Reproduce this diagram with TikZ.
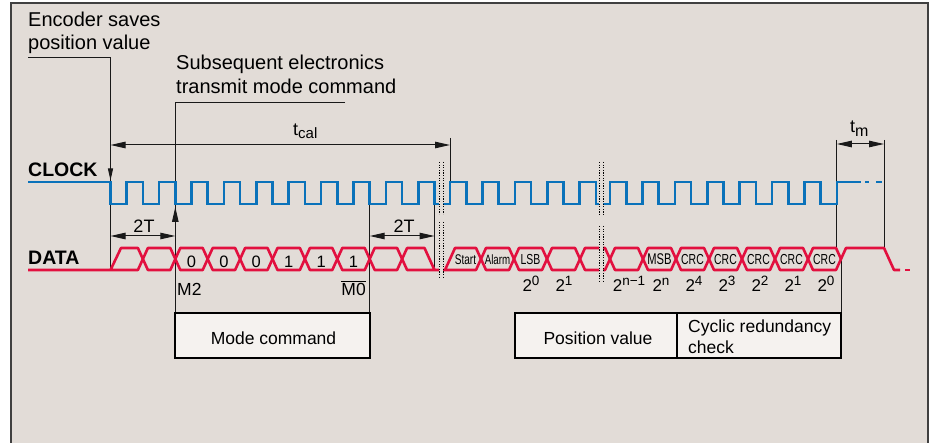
\documentclass[tikz,border=0pt]{standalone}
\usepackage{fontspec}
\setmainfont{Liberation Sans}
\newfontfamily\condfont[FakeStretch=0.72]{Liberation Sans}
\usetikzlibrary{arrows.meta}
\definecolor{bgc}{HTML}{E2DCD7}
\definecolor{boxc}{HTML}{F5F2EF}
\definecolor{clkc}{HTML}{0A72BA}
\definecolor{datc}{HTML}{E2103F}
\newcommand{\fsz}[1]{\fontsize{#1}{#1}\selectfont}
\newcommand{\powlab}[1]{2\raisebox{6.5pt}{\fsz{13.5}#1}}
\begin{document}
\begin{tikzpicture}[x=1pt,y=-1pt,
  clk/.style={draw=clkc,line width=2.6pt},
  dat/.style={draw=datc,line width=2.6pt,line join=round},
  ann/.style={draw=black!90,line width=1pt},
  dimarr/.style={ann,{Triangle[length=15pt,width=6.5pt]}-{Triangle[length=15pt,width=6.5pt]}},
  arrtip/.style={ann,-{Triangle[length=15pt,width=6.5pt]}},
  dotl/.style={draw=black,line width=0.9pt,dash pattern=on 1.2pt off 1.4pt},
  boxs/.style={draw=black,line width=2pt,fill=boxc,inner sep=0pt,minimum height=45pt},
  txt/.style={inner sep=0pt,font=\fsz{20}},
  lab/.style={inner sep=0pt,font=\fsz{18}},
  bit/.style={inner sep=0pt,font=\fsz{16.5},anchor=base},
  cnd/.style={inner sep=0pt,font=\condfont\fsz{14.5},anchor=base},
  pwr/.style={inner sep=0pt,font=\fsz{17},anchor=base},
  bold/.style={inner sep=0pt,font=\fsz{19.5}\bfseries,anchor=base west}]
\useasboundingbox (0,0) rectangle (936,443);
\fill[white] (0,0) rectangle (936,443);
\fill[bgc] (11,3) rectangle (928,443);
\draw[line width=1.5pt,black!75] (11,443) -- (11,3) -- (928,3) -- (928,443);

% texts on top
\node[txt,anchor=base west] (enc1) at (28,27) {Encoder saves};
\node[txt,anchor=base west] (enc2) at (28,50) {position value};
\node[txt,anchor=base west] (sub1) at (176,70) {Subsequent electronics};
\node[txt,anchor=base west] (sub2) at (176,94) {transmit mode command};
\node[bold] (clocklab) at (28,177) {CLOCK};
\node[bold] (datalab) at (28,265) {DATA};

% leader lines
\coordinate (encA) at (28,58);
\coordinate (encB) at (110.5,58);
\coordinate (encC) at (110.5,270);
\draw[ann] (encA) -- (encB) -- (encC);
\draw[ann,-{Triangle[length=12pt,width=5pt]}] (110.5,166) -- (110.5,180.5);
\coordinate (subA) at (345,103);
\coordinate (subB) at (175.3,103);
\coordinate (subC) at (175.3,313);
\draw[ann] (subA) -- (subB) -- (subC);
\draw[arrtip] (175.3,224) -- (175.3,207);
\draw[ann] (369.7,182) -- (369.7,313);
\draw[ann] (450,138) -- (450,204);
\draw[ann] (434.5,204) -- (434.5,270);
\draw[ann] (836.8,140) -- (836.8,248);
\draw[ann] (884,140) -- (884,248);
\draw[ann] (841,259) -- (841,313);

% dimension arrows
\draw[dimarr] (110.5,145) -- (450,145);
\node[lab,anchor=base west] (tcal) at (293,136) {t\raisebox{-3pt}{\fsz{15}cal}};
\draw[dimarr] (110.5,236) -- (175.3,236);
\node[lab,anchor=base] (twoTa) at (144,233) {2T};
\draw[dimarr] (369.7,236) -- (434.5,236);
\node[lab,anchor=base] (twoTb) at (404,233) {2T};
\draw[dimarr] (836.8,144) -- (884,144);
\node[lab,anchor=base west] (tm) at (850,133) {t\raisebox{-4pt}{\fsz{16}m}};

% clock
\draw[clk] (28,182) \foreach \k in {0,...,9}{ -- ({110.5+32.4*\k},182) -- ({110.5+32.4*\k},204) -- ({126.7+32.4*\k},204) -- ({126.7+32.4*\k},182) } -- (434.5,182) -- (434.5,204) -- (439,204);
\draw[clk] (443,204) \foreach \j in {0,...,4}{ -- ({450+32.4*\j},204) -- ({450+32.4*\j},182) -- ({466.2+32.4*\j},182) -- ({466.2+32.4*\j},204) } -- (599,204);
\draw[clk] (603,204) \foreach \j in {0,...,6}{ -- ({610+32.4*\j},204) -- ({610+32.4*\j},182) -- ({626.2+32.4*\j},182) -- ({626.2+32.4*\j},204) } -- (836.8,204) -- (836.8,182) -- (861,182);
\draw[clk] (865,182) -- (869,182);
\draw[clk] (876,182) -- (882,182);

% data part 1
\draw[dat] (28,270) -- (137.9,270) -- (142.9,259) -- (137.9,248) -- (121,248) -- (110.5,270);
\foreach \k in {1,...,8}{
  \pgfmathsetmacro{\a}{110.5+32.4*\k}
  \pgfmathsetmacro{\b}{\a+32.4}
  \draw[dat] (\a,259) -- ({\a+5},248) -- ({\b-5},248) -- (\b,259) -- ({\b-5},270) -- ({\a+5},270) -- cycle;
}
\draw[dat] (439,270) -- (407.1,270) -- (402.1,259) -- (407.1,248) -- (424.5,248) -- (434.5,270);
% data part 2
\draw[dat] (443,270) -- (476,270) -- (481,259) -- (476,248) -- (455,248) -- (445,270);
\foreach \a/\b in {481/514,514/547,547/580}{
  \draw[dat] (\a,259) -- ({\a+5},248) -- ({\b-5},248) -- (\b,259) -- ({\b-5},270) -- ({\a+5},270) -- cycle;
}
\draw[dat] (599,248) -- (585,248) -- (580,259) -- (585,270) -- (599,270);
% data part 3
\draw[dat] (603,248) -- (605,248) -- (610,259) -- (605,270) -- (603,270);
\foreach \a/\b in {610/643,643/676,676/709,709/742,742/775,775/808,808/841}{
  \draw[dat] (\a,259) -- ({\a+5},248) -- ({\b-5},248) -- (\b,259) -- ({\b-5},270) -- ({\a+5},270) -- cycle;
}
\draw[dat] (841,259) -- (846,248) -- (884,248) -- (894,270) -- (900,270);
\draw[dat] (905,270) -- (910,270);

% break marks
\foreach \x in {439,443}{
  \draw[dotl] (\x,162) -- (\x,214);
  \draw[dotl] (\x,222) -- (\x,279);
}
\foreach \x in {599,603}{
  \draw[dotl] (\x,162) -- (\x,216);
  \draw[dotl] (\x,226) -- (\x,282);
}

% bit values
\node[bit] (b1) at (191.5,268) {0};
\node[bit] (b2) at (223.9,268) {0};
\node[bit] (b3) at (256.3,268) {0};
\node[bit] (b4) at (288.7,268) {1};
\node[bit] (b5) at (321.1,268) {1};
\node[bit] (b6) at (353.5,268) {1};
\node[inner sep=0pt,font=\fsz{17.5},anchor=base west] (m2) at (177,295) {M2};
\node[inner sep=0pt,font=\fsz{17.5},anchor=base east] (m0) at (366,295) {$\overline{\hbox{M0}}$};

% cell labels
\node[cnd,font=\condfont\fsz{14}] (start) at (465.5,265) {Start};
\node[cnd,font=\condfont\fsz{13.5}] (alarm) at (497.5,265) {Alarm};
\node[cnd] (lsb) at (530.5,265) {LSB};
\node[cnd,font=\condfont\fsz{15.5}] (msb) at (659.5,265) {MSB};
\node[cnd] (crc4) at (692.5,265) {CRC};
\node[cnd] (crc3) at (725.5,265) {CRC};
\node[cnd] (crc2) at (758.5,265) {CRC};
\node[cnd] (crc1) at (791.5,265) {CRC};
\node[cnd] (crc0) at (824.5,265) {CRC};

% weights
\node[pwr] (w0) at (531,292) {\powlab{0}};
\node[pwr] (w1) at (564,292) {\powlab{1}};
\node[pwr] (wn1) at (629,292) {\powlab{n−1}};
\node[pwr] (wn) at (661,292) {\powlab{n}};
\node[pwr] (c4) at (694,292) {\powlab{4}};
\node[pwr] (c3) at (727,292) {\powlab{3}};
\node[pwr] (c2) at (760,292) {\powlab{2}};
\node[pwr] (c1) at (793,292) {\powlab{1}};
\node[pwr] (c0) at (826,292) {\powlab{0}};

% boxes
\node[boxs,minimum width=194.4pt] (modebox) at (272.5,335.5) {};
\node[inner sep=0pt,font=\fsz{17.5},anchor=base] (modetxt) at (273.5,344) {Mode command};
\node[boxs,minimum width=162pt] (posbox) at (596,335.5) {};
\node[inner sep=0pt,font=\fsz{17.5},anchor=base] (postxt) at (598,344) {Position value};
\node[boxs,minimum width=164pt] (crcbox) at (759,335.5) {};
\node[inner sep=0pt,font=\fsz{17.5},anchor=base west] (crct1) at (688,332.5) {Cyclic redundancy};
\node[inner sep=0pt,font=\fsz{17.5},anchor=base west] (crct2) at (688,353) {check};
\end{tikzpicture}
\end{document}
